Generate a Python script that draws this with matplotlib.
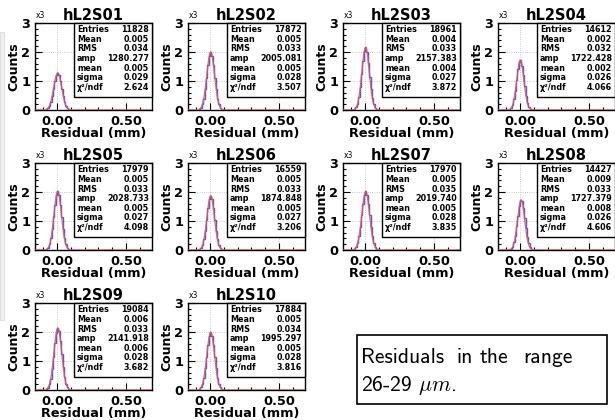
import numpy as np
import matplotlib
matplotlib.use("Agg")
import matplotlib.pyplot as plt
from matplotlib.patches import Rectangle
from matplotlib.ticker import MultipleLocator, FormatStrFormatter

plt.rcParams.update({
    "font.family": "DejaVu Sans", "font.weight": "bold",
    "mathtext.fontset": "cm",
    "axes.linewidth": 1.0,
})

# per-sensor residual fits (residual in mm, counts in units of 1e3)
names = ["hL2S01", "hL2S02", "hL2S03", "hL2S04", "hL2S05",
         "hL2S06", "hL2S07", "hL2S08", "hL2S09", "hL2S10"]
entries = [11828, 17872, 18961, 14612, 17979, 16559, 17970, 14427, 19084, 17884]
h_mean = [0.005, 0.005, 0.004, 0.002, 0.005, 0.005, 0.005, 0.009, 0.006, 0.005]
h_rms = [0.034, 0.033, 0.033, 0.032, 0.033, 0.033, 0.035, 0.033, 0.033, 0.034]
amp = [1280.277, 2005.081, 2157.383, 1722.428, 2028.733,
       1874.848, 2019.740, 1727.379, 2141.918, 1995.297]
fit_mean = [0.005, 0.005, 0.004, 0.002, 0.005, 0.005, 0.005, 0.008, 0.006, 0.005]
fit_sigma = [0.029, 0.028, 0.027, 0.026, 0.027, 0.027, 0.028, 0.026, 0.028, 0.028]
chi2ndf = [2.624, 3.507, 3.872, 4.066, 4.098, 3.206, 3.835, 4.606, 3.682, 3.816]

XLO, XHI = -0.16, 0.69
W, H = 615, 420
col_left = [35, 188, 343, 498]
row_top = [23, 163, 303]
AW, AH = 117, 87


def gaus(x, a, m, s):
    return a / 1000.0 * np.exp(-0.5 * ((x - m) / s) ** 2)


fig = plt.figure(figsize=(W / 100, H / 100), dpi=100)

# light side strip of the slide
fig.patches.append(Rectangle((0, 1 - 320 / H), 4 / W, 288 / H, transform=fig.transFigure,
                             facecolor="#efefef", edgecolor="#dddddd", lw=0.6))

edges = np.arange(XLO, XHI + 1e-9, 0.01)
centres = 0.5 * (edges[:-1] + edges[1:])
xs = np.linspace(XLO, XHI, 600)

for i, nm in enumerate(names):
    r, c = divmod(i, 4)
    ax = fig.add_axes([col_left[c] / W, 1 - (row_top[r] + AH) / H, AW / W, AH / H])
    ax.stairs(gaus(centres, amp[i], h_mean[i], h_rms[i] * 0.84), edges,
              color="#4a5fd0", lw=1.0, zorder=2)
    ax.plot(xs, gaus(xs, amp[i], fit_mean[i], fit_sigma[i]),
            color="#e8505a", lw=1.0, alpha=0.85, zorder=3)
    ax.set_xlim(XLO, XHI)
    ax.set_ylim(0, 3)
    ax.xaxis.set_major_locator(MultipleLocator(0.5))
    ax.xaxis.set_minor_locator(MultipleLocator(0.1))
    ax.xaxis.set_major_formatter(FormatStrFormatter("%.2f"))
    ax.yaxis.set_major_locator(MultipleLocator(1))
    ax.yaxis.set_minor_locator(MultipleLocator(0.2))
    ax.tick_params(which="both", direction="in", width=0.8, labelsize=9.3, pad=3.5)
    ax.tick_params(which="major", length=5)
    ax.tick_params(which="minor", length=2.5)
    ax.grid(True, which="major", ls=":", lw=0.6, color="#b8b8b8")
    ax.set_axisbelow(True)
    ax.set_title(nm, fontsize=10.5, fontweight="bold", pad=2)
    ax.text(0.01, 1.03, "x3", transform=ax.transAxes, fontsize=5.5,
            fontweight="normal", ha="left", va="bottom")
    ax.set_ylabel("Counts", fontsize=9, fontweight="bold")
    ax.yaxis.set_label_coords(-0.125, 0.5)
    ax.set_xlabel("Residual (mm)", fontsize=9.3, fontweight="bold")
    ax.xaxis.set_label_coords(0.5, -0.19)

    # stats box
    bx0, by0 = 0.33, 0.153
    ax.add_patch(Rectangle((bx0, by0), 1 - bx0, 1 - by0, transform=ax.transAxes,
                           facecolor="white", edgecolor="black", lw=1.0, zorder=5,
                           clip_on=False))
    rows = [("Entries", f"{entries[i]}"), ("Mean", f"{h_mean[i]:.3f}"),
            ("RMS", f"{h_rms[i]:.3f}"), ("amp", f"{amp[i]:.3f}"),
            ("mean", f"{fit_mean[i]:.3f}"), ("sigma", f"{fit_sigma[i]:.3f}"),
            ("χ²/ndf", f"{chi2ndf[i]:.3f}")]
    for k, (lab, val) in enumerate(rows):
        yy = 1 - (6.8 + 9.6 * k) / AH
        ax.text(bx0 + 0.03, yy, lab, transform=ax.transAxes, fontsize=5.8,
                ha="left", va="center", zorder=6)
        ax.text(0.975, yy, val, transform=ax.transAxes, fontsize=5.8,
                ha="right", va="center", zorder=6)

# note box in the empty corner
fig.patches.append(Rectangle((357 / W, 1 - 404 / H), 250 / W, 69 / H,
                             transform=fig.transFigure, facecolor="white",
                             edgecolor="black", lw=1.2))
for word, xp in [("Residuals", 361), ("in", 457), ("the", 480), ("range", 523)]:
    fig.text(xp / W, 1 - 363 / H, word, fontsize=15.5, family="cmss10",
             fontweight="normal", ha="left", va="baseline")
fig.text(361 / W, 1 - 391 / H, r"26-29 $\mu m$.", fontsize=15.5, family="cmss10",
         fontweight="normal", ha="left", va="baseline")

fig.savefig("out.png", dpi=100)
